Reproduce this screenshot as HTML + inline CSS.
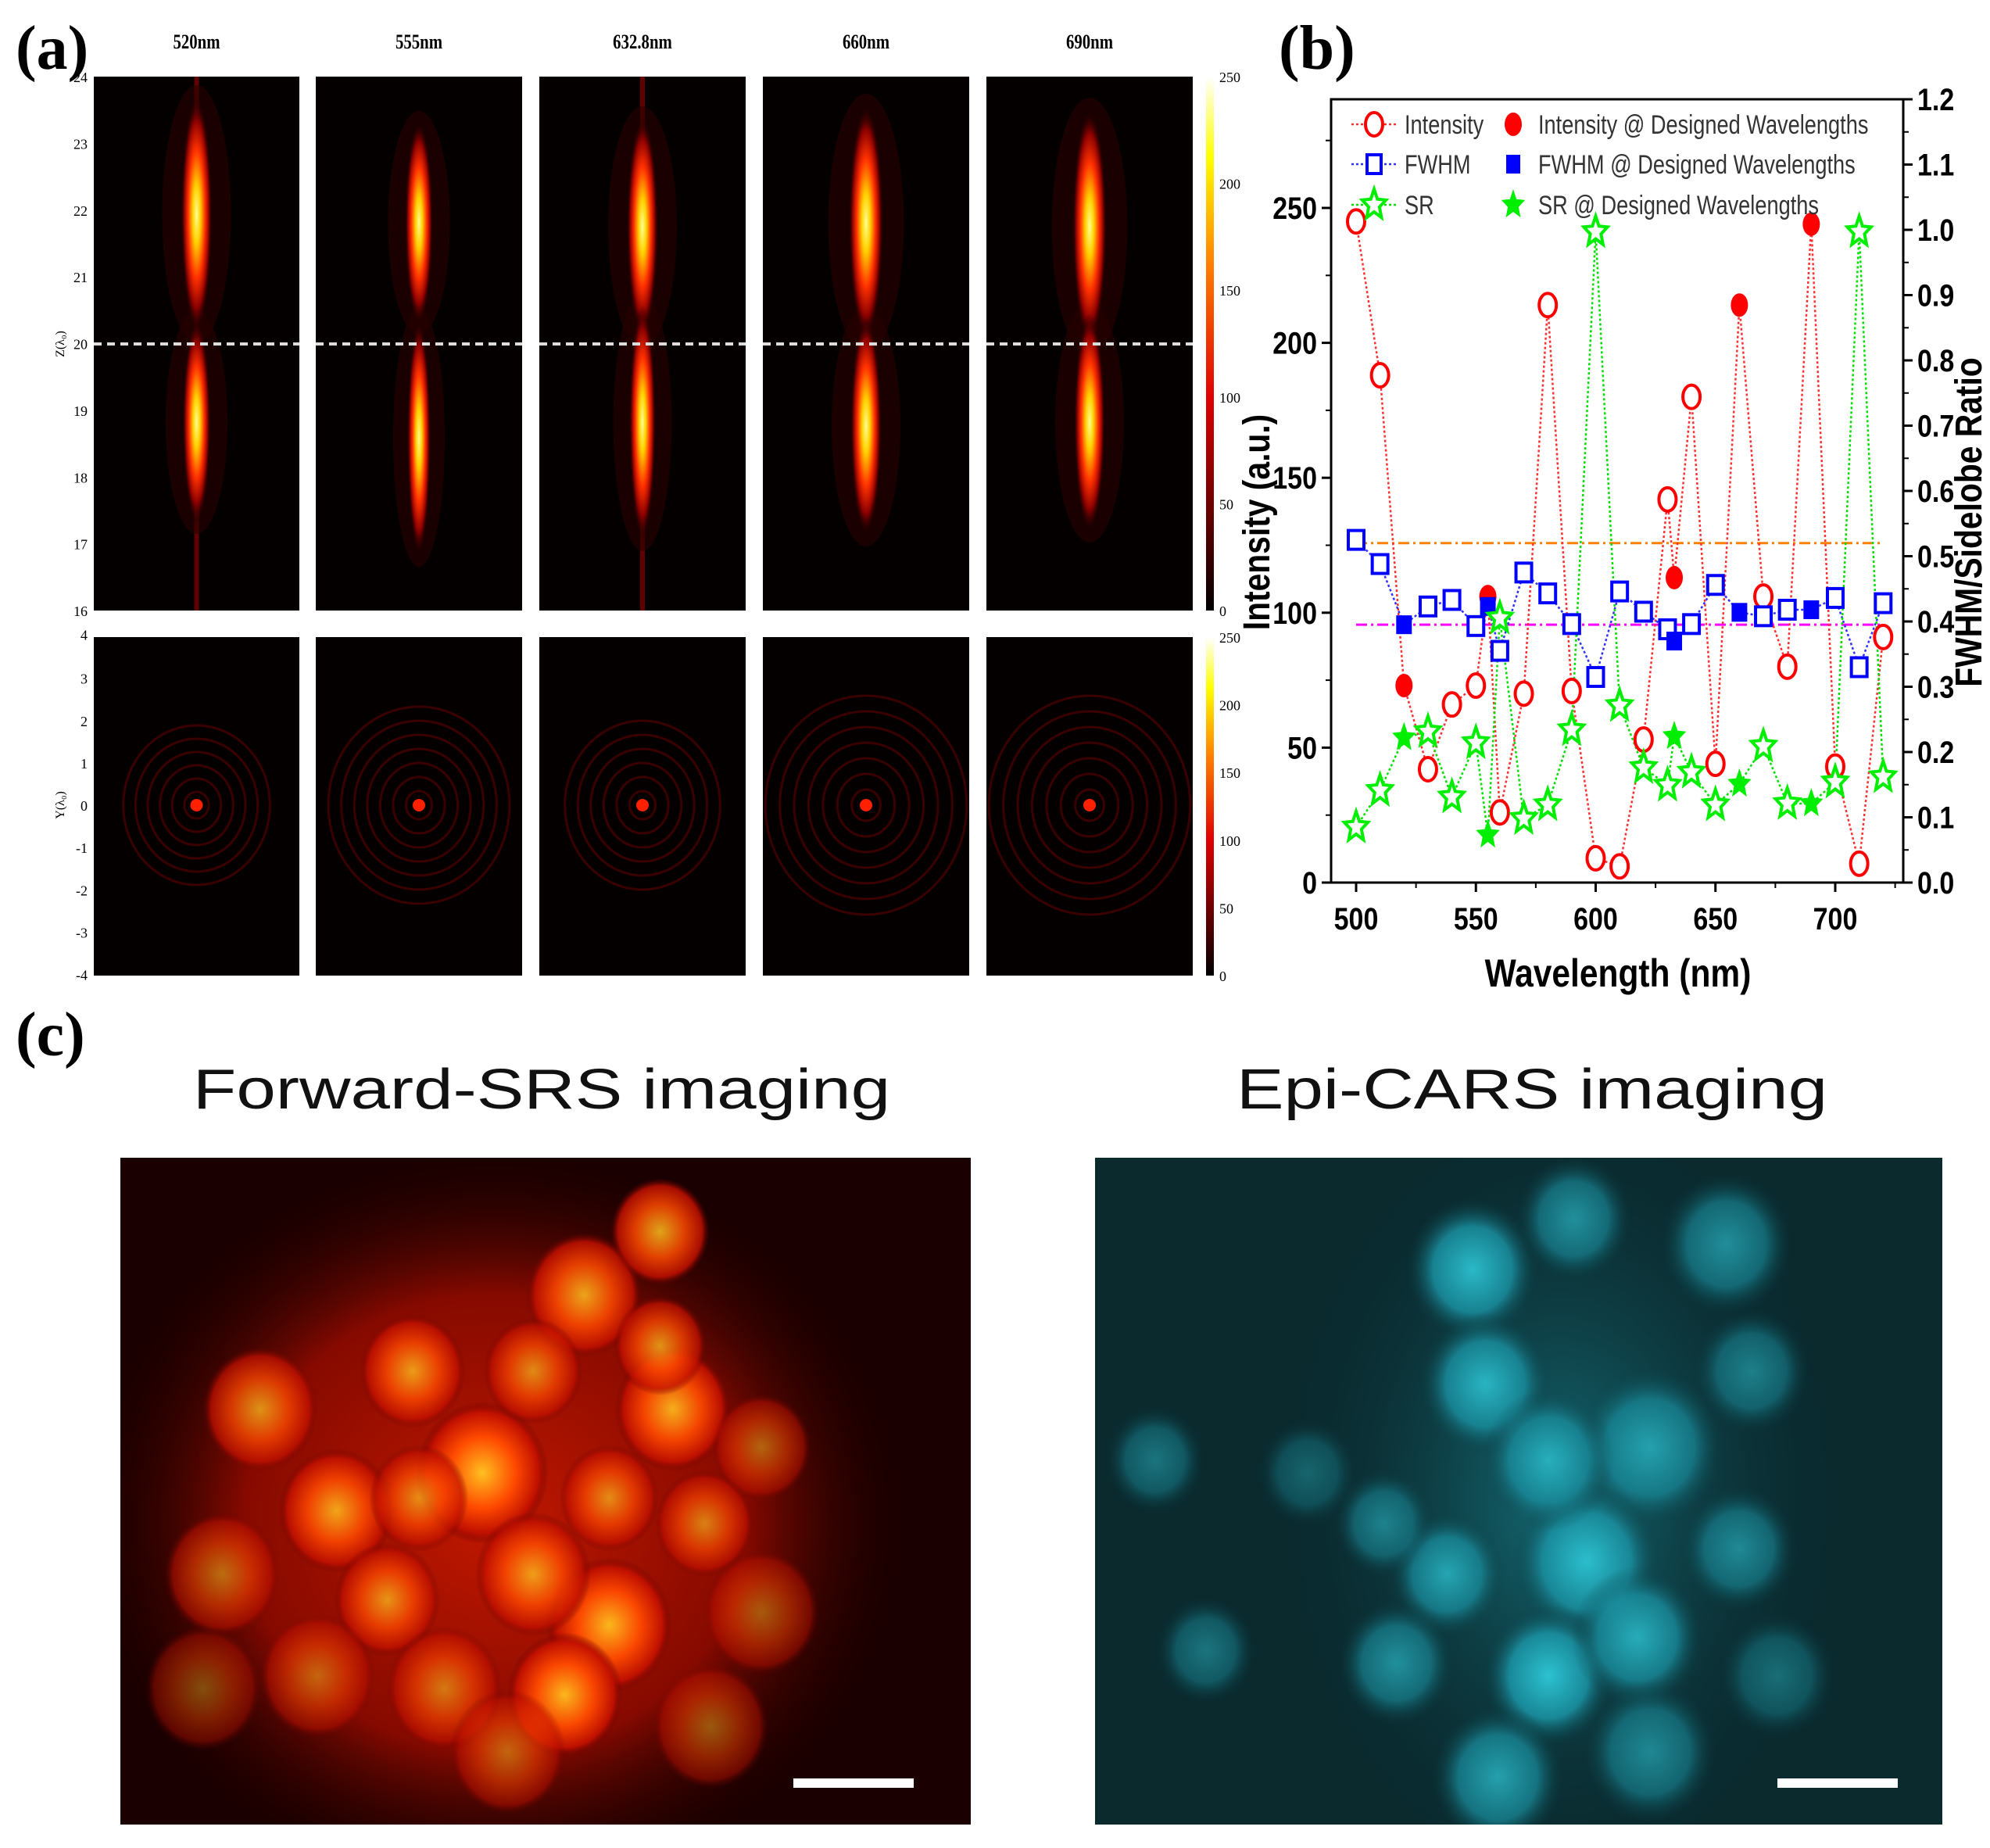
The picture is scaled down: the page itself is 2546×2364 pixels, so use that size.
<!DOCTYPE html>
<html><head><meta charset="utf-8">
<style>
html,body{margin:0;padding:0;background:#fff;}
body{width:2546px;height:2364px;position:relative;overflow:hidden;font-family:"Liberation Sans",sans-serif;}
svg{position:absolute;left:0;top:0;}
</style></head>
<body>
<svg id="root" width="2546" height="2364" viewBox="0 0 2546 2364" xmlns="http://www.w3.org/2000/svg">
<defs>
  <radialGradient id="lobe" cx="50%" cy="50%" r="50%">
    <stop offset="0" stop-color="#ffff90"/>
    <stop offset="0.25" stop-color="#ffd000"/>
    <stop offset="0.55" stop-color="#ff3000"/>
    <stop offset="0.8" stop-color="#8a0000"/>
    <stop offset="1" stop-color="#100000" stop-opacity="0"/>
  </radialGradient>
  <linearGradient id="cbar" x1="0" y1="1" x2="0" y2="0">
    <stop offset="0" stop-color="#000"/>
    <stop offset="0.4" stop-color="#e00000"/>
    <stop offset="0.65" stop-color="#ff8000"/>
    <stop offset="0.85" stop-color="#ffff00"/>
    <stop offset="1" stop-color="#ffffff"/>
  </linearGradient>
  <radialGradient id="redcell" cx="50%" cy="50%" r="50%">
    <stop offset="0" stop-color="#ffc020"/>
    <stop offset="0.5" stop-color="#ff4a00"/>
    <stop offset="0.85" stop-color="#c01000"/>
    <stop offset="1" stop-color="#600000" stop-opacity="0"/>
  </radialGradient>
  <radialGradient id="redglow" cx="50%" cy="50%" r="50%">
    <stop offset="0" stop-color="#c01800"/>
    <stop offset="0.6" stop-color="#860a00"/>
    <stop offset="1" stop-color="#1a0000" stop-opacity="0"/>
  </radialGradient>
  <radialGradient id="cyancell" cx="50%" cy="50%" r="50%">
    <stop offset="0" stop-color="#30d0e0"/>
    <stop offset="0.6" stop-color="#1a90a0"/>
    <stop offset="1" stop-color="#0a3a40" stop-opacity="0"/>
  </radialGradient>
  <radialGradient id="cyanglow" cx="50%" cy="50%" r="50%">
    <stop offset="0" stop-color="#166e78"/>
    <stop offset="1" stop-color="#0a2a30" stop-opacity="0"/>
  </radialGradient>
  <clipPath id="clipL"><rect x="154" y="1481" width="1088" height="853"/></clipPath>
  <clipPath id="clipR"><rect x="1401" y="1481" width="1084" height="853"/></clipPath>
</defs>
<g id="panelA"></g>
<g id="panelB"></g>
<g id="panelC"></g>
</svg>
<script>
// ---- Panel (b) chart data ----
const wavelengths = [500,510,520,530,540,550,555,560,570,580,590,600,610,620,630,632.8,640,650,660,670,680,690,700,710,720];
const designed = [520,555,632.8,660,690];
const intensityValues = [245,188,73,42,66,73,106,26,70,214,71,9,6,53,142,113,180,44,214,106,80,244,43,7,91];
const fwhmValues = [0.525,0.488,0.395,0.423,0.433,0.393,0.423,0.355,0.475,0.443,0.396,0.315,0.446,0.415,0.388,0.370,0.396,0.456,0.414,0.408,0.418,0.418,0.436,0.330,0.428];
const srValues = [0.085,0.141,0.222,0.231,0.131,0.214,0.073,0.405,0.098,0.119,0.234,0.997,0.271,0.176,0.149,0.224,0.169,0.119,0.151,0.209,0.121,0.121,0.154,0.997,0.162];
const refLineOrange = 0.52;
const refLineMagenta = 0.395;
const xTicks = [500,550,600,650,700];
const yLeftTicks = [0,50,100,150,200,250];
const yRightTicks = [0,0.1,0.2,0.3,0.4,0.5,0.6,0.7,0.8,0.9,1.0,1.1,1.2];

const NS = "http://www.w3.org/2000/svg";
function mk(tag, attrs, parent){const e=document.createElementNS(NS,tag);for(const k in attrs)e.setAttribute(k,attrs[k]);if(parent)parent.appendChild(e);return e;}

const L=1703, R=2435, T=127, B=1129;
const xs = v => 1735 + (v-500)*(2348-1735)/200;
const yl = v => B - v*(B-266)/250;
const yr = v => B - v*(B-T)/1.2;

const pb = document.getElementById('panelB');
const lb = mk('text',{x:1636,y:88,'font-family':'Liberation Serif, serif','font-weight':'bold','font-size':80},pb);
lb.textContent='(b)';



const frame = mk('rect',{x:L,y:T,width:R-L,height:B-T,fill:'none',stroke:'#000','stroke-width':3},pb);



xTicks.forEach(v=>{
  const x=xs(v);
  mk('line',{x1:x,y1:B,x2:x,y2:B+12,stroke:'#000','stroke-width':3},pb);
  const t=mk('text',{x:x,y:B+60,'text-anchor':'middle','font-size':40,'font-weight':'bold',transform:`translate(${x},0) scale(0.85,1) translate(${-x},0)`},pb);
  t.textContent=v;
  
  
});
for(let v=525; v<=725; v+=50){const x=xs(v);mk('line',{x1:x,y1:B,x2:x,y2:B+7,stroke:'#000','stroke-width':2},pb);}
yLeftTicks.forEach(v=>{
  const y=yl(v);
  mk('line',{x1:L-12,y1:y,x2:L,y2:y,stroke:'#000','stroke-width':3},pb);
  const t=mk('text',{x:L-18,y:y+14,'text-anchor':'end','font-size':40,'font-weight':'bold',transform:`translate(${L-18},0) scale(0.85,1) translate(${-(L-18)},0)`},pb);
  t.textContent=v;
  
  
});
for(let v=25; v<=275; v+=50){const y=yl(v);mk('line',{x1:L-7,y1:y,x2:L,y2:y,stroke:'#000','stroke-width':2},pb);}
yRightTicks.forEach(v=>{
  const y=yr(v);
  mk('line',{x1:R,y1:y,x2:R+12,y2:y,stroke:'#000','stroke-width':3},pb);
  const t=mk('text',{x:R+18,y:y+14,'font-size':40,'font-weight':'bold',transform:`translate(${R+18},0) scale(0.85,1) translate(${-(R+18)},0)`},pb);
  t.textContent=v.toFixed(1);
  
  
});
for(let v=0.05; v<1.2; v+=0.1){const y=yr(v);mk('line',{x1:R,y1:y,x2:R+7,y2:y,stroke:'#000','stroke-width':2},pb);}

const xt=mk('text',{x:2070,y:1262,'text-anchor':'middle','font-size':50,'font-weight':'bold',transform:'translate(2070,0) scale(0.85,1) translate(-2070,0)'},pb);
xt.textContent='Wavelength (nm)';


const ylt=mk('text',{x:0,y:0,'text-anchor':'middle','font-size':48,'font-weight':'bold',transform:`translate(1624,${(B+T)/2+40}) rotate(-90) scale(0.85,1)`},pb);
ylt.textContent='Intensity (a.u.)';


const yrt=mk('text',{x:0,y:0,'text-anchor':'middle','font-size':48,'font-weight':'bold',transform:`translate(2535,${(B+T)/2+40}) rotate(-90) scale(0.85,1)`},pb);
yrt.textContent='FWHM/Sidelobe Ratio';



const ro=mk('line',{x1:xs(500),x2:xs(720),y1:yr(refLineOrange),y2:yr(refLineOrange),stroke:'#ff8000','stroke-width':3,'stroke-dasharray':'14 5 3 5'},pb);


const rm=mk('line',{x1:xs(500),x2:xs(720),y1:yr(refLineMagenta),y2:yr(refLineMagenta),stroke:'#ff00ff','stroke-width':3,'stroke-dasharray':'14 5 3 5'},pb);



function series(vals, yf, color, name){
  const pts=wavelengths.map((w,i)=>xs(w)+','+yf(vals[i])).join(' ');
  const pl=mk('polyline',{points:pts,fill:'none',stroke:color,'stroke-width':2.5,'stroke-dasharray':'3 3'},pb);
  
  
}
function star(cx,cy,ro,ri){let p=[];for(let k=0;k<10;k++){const r=k%2?ri:ro;const a=-Math.PI/2+k*Math.PI/5;p.push((cx+r*Math.cos(a)*0.8)+','+(cy+r*Math.sin(a)));}return p.join(' ');}

series(intensityValues, yl, '#ff3030', 'intensity');
series(fwhmValues, yr, '#3030ff', 'fwhm');
series(srValues, yr, '#00e000', 'sr');

wavelengths.forEach((w,i)=>{
  const d=designed.includes(w);
  const x=xs(w);
  let e=mk('ellipse',{cx:x,cy:yl(intensityValues[i]),rx:11,ry:15,fill:d?'#ff0000':'#fff',stroke:'#ff0000','stroke-width':d?0:4},pb);
  
  
  let s=mk('rect',{x:x-10,y:yr(fwhmValues[i])-12,width:20,height:24,fill:d?'#0000ff':'#fff',stroke:'#0000ff','stroke-width':d?0:4},pb);
  
  
  let st=mk('polygon',{points:star(x,yr(srValues[i]),20,9),fill:d?'#00ee00':'#fff',stroke:'#00ee00','stroke-width':d?0:4},pb);
  
  
});

const legendRows=[
  {y:159,c:'#ff3030',m:'circle',t1:'Intensity',t2:'Intensity @ Designed Wavelengths'},
  {y:210,c:'#3030ff',m:'square',t1:'FWHM',t2:'FWHM @ Designed Wavelengths'},
  {y:262,c:'#00e000',m:'star',t1:'SR',t2:'SR @ Designed Wavelengths'}];
legendRows.forEach(r=>{
  const g=mk('g',{},pb);
  
  
  mk('line',{x1:1729,x2:1787,y1:r.y,y2:r.y,stroke:r.c,'stroke-width':2.5,'stroke-dasharray':'3 3'},g);
  const draw=(x,filled)=>{
    if(r.m==='circle') mk('ellipse',{cx:x,cy:r.y,rx:11,ry:15,fill:filled?'#f00':'#fff',stroke:'#f00','stroke-width':filled?0:4},g);
    else if(r.m==='square') mk('rect',{x:x-9,y:r.y-12,width:18,height:24,fill:filled?'#00f':'#fff',stroke:'#00f','stroke-width':filled?0:4},g);
    else mk('polygon',{points:star(x,r.y,20,9),fill:filled?'#00ee00':'#fff',stroke:'#00ee00','stroke-width':filled?0:4},g);
  };
  draw(1758,false); draw(1936,true);
  const t1=mk('text',{x:1797,y:r.y+12,'font-size':34,fill:'#333',transform:'translate(1797,0) scale(0.8,1) translate(-1797,0)'},g); t1.textContent=r.t1;
  const t2=mk('text',{x:1968,y:r.y+12,'font-size':34,fill:'#333',transform:'translate(1968,0) scale(0.8,1) translate(-1968,0)'},g); t2.textContent=r.t2;
});

// ---- Panel (a) ----
const pa=document.getElementById('panelA');
const la=mk('text',{x:20,y:88,'font-family':'Liberation Serif, serif','font-weight':'bold','font-size':80},pa);
la.textContent='(a)';


const colsX=[[120,383],[404,668],[690,954],[976,1240],[1262,1526]];
const colNames=['520nm','555nm','632.8nm','660nm','690nm'];
const lobeUp=[[274,150,20],[285,130,18],[290,140,20],[285,150,22],[290,150,22]];
const lobeDn=[[540,130,18],[560,150,15],[540,150,17],[545,140,20],[540,140,20]];
const ringR=[[6,17],[7,18],[6,18],[7,20],[7,20]];
colsX.forEach((c,i)=>{
  const cx=(c[0]+c[1])/2;
  const lt=mk('text',{x:cx,y:62,'text-anchor':'middle','font-family':'Liberation Serif, serif','font-weight':'bold','font-size':26,transform:`translate(${cx},0) scale(0.8,1) translate(${-cx},0)`},pa);
  lt.textContent=colNames[i];
  
  
  const g=mk('g',{},pa);
  
  
  mk('rect',{x:c[0],y:98,width:c[1]-c[0],height:683,fill:'#050000'},g);
  if(i===0||i===2) mk('rect',{x:cx-3,y:98,width:6,height:683,fill:'#600000'},g);
  mk('ellipse',{cx:cx,cy:lobeUp[i][0],rx:lobeUp[i][2]*2.2,ry:lobeUp[i][1]*1.1,fill:'#2a0000',opacity:0.6},g);
  mk('ellipse',{cx:cx,cy:lobeDn[i][0],rx:lobeDn[i][2]*2.2,ry:lobeDn[i][1]*1.1,fill:'#2a0000',opacity:0.6},g);
  mk('ellipse',{cx:cx,cy:lobeUp[i][0],rx:lobeUp[i][2],ry:lobeUp[i][1],fill:'url(#lobe)'},g);
  mk('ellipse',{cx:cx,cy:lobeDn[i][0],rx:lobeDn[i][2],ry:lobeDn[i][1],fill:'url(#lobe)'},g);
  mk('line',{x1:c[0],x2:c[1],y1:440,y2:440,stroke:'#ddd','stroke-width':4,'stroke-dasharray':'10 7'},g);
  const g2=mk('g',{},pa);
  
  
  mk('rect',{x:c[0],y:815,width:c[1]-c[0],height:433,fill:'#050000'},g2);
  for(let k=1;k<=ringR[i][0];k++) mk('ellipse',{cx:cx,cy:1030,rx:k*ringR[i][1]*0.92,ry:k*ringR[i][1],fill:'none',stroke:'#3a0000','stroke-width':3},g2);
  mk('circle',{cx:cx,cy:1030,r:8,fill:'#ff2000'},g2);
});
for(let v=16;v<=24;v++){const y=781-(v-16)*(683/8);const t=mk('text',{x:112,y:y+7,'text-anchor':'end','font-family':'Liberation Serif, serif','font-size':18},pa);t.textContent=v;}
for(let v=-4;v<=4;v++){const y=1030-v*(433/8)+ (v===4?-2:0);const t=mk('text',{x:112,y:y+7,'text-anchor':'end','font-family':'Liberation Serif, serif','font-size':18},pa);t.textContent=v;}
const zt=mk('text',{x:0,y:0,'text-anchor':'middle','font-family':'Liberation Serif, serif','font-size':16,transform:'translate(82,440) rotate(-90)'},pa);zt.textContent='Z(λ₀)';
const yt=mk('text',{x:0,y:0,'text-anchor':'middle','font-family':'Liberation Serif, serif','font-size':16,transform:'translate(82,1030) rotate(-90)'},pa);yt.textContent='Y(λ₀)';
[[98,781],[815,1248]].forEach(b=>{
  const cb=mk('rect',{x:1543,y:b[0],width:10,height:b[1]-b[0],fill:'url(#cbar)'},pa);
  
  
  [0,50,100,150,200,250].forEach(v=>{const y=b[1]-v*(b[1]-b[0])/250;const t=mk('text',{x:1560,y:y+7,'font-family':'Liberation Serif, serif','font-size':18},pa);t.textContent=v;});
});

// ---- Panel (c) ----
const pc=document.getElementById('panelC');
const lc=mk('text',{x:20,y:1350,'font-family':'Liberation Serif, serif','font-weight':'bold','font-size':80},pc);
lc.textContent='(c)';


const t1=mk('text',{x:693,y:1418,'text-anchor':'middle','font-size':72,fill:'#111',transform:'translate(693,0) scale(1.26,1) translate(-693,0)'},pc);t1.textContent='Forward-SRS imaging';
const t2=mk('text',{x:1960,y:1418,'text-anchor':'middle','font-size':72,fill:'#111',transform:'translate(1960,0) scale(1.26,1) translate(-1960,0)'},pc);t2.textContent='Epi-CARS imaging';
const S=1.624;
const redCells=[[380,1160,40,1],[480,1280,38,0.95],[445,1335,35,0.95],[530,1110,35,0.9],[460,1020,35,0.85],[520,970,30,0.85],[325,1080,32,0.8],[265,1190,35,0.85],[205,1110,35,0.75],[305,1260,32,0.75],[520,1060,28,0.75],[420,1240,35,0.8],[555,1200,30,0.65],[175,1240,35,0.55],[350,1330,35,0.6],[250,1320,35,0.5],[420,1080,30,0.7],[330,1180,30,0.7],[600,1270,35,0.45],[560,1360,35,0.45],[480,1180,30,0.7],[400,1380,35,0.5],[160,1330,35,0.4],[600,1140,30,0.5]];
const cyanCells=[[1160,1000,40,0.85],[1170,1090,40,0.8],[1360,980,40,0.6],[1300,1140,45,0.65],[1250,1230,45,0.85],[1220,1320,40,0.9],[1290,1290,40,0.75],[1140,1240,35,0.7],[1100,1310,35,0.6],[1370,1220,35,0.55],[1180,1400,40,0.7],[1300,1380,40,0.55],[1380,1080,35,0.5],[910,1150,30,0.45],[950,1300,30,0.45],[1030,1160,30,0.35],[1240,960,35,0.6],[1220,1150,40,0.7],[1090,1200,30,0.5],[1400,1320,35,0.4]];
function img(clip,x,y,w,h,base,glow,cells,cellGrad,glowC,name){
  const g=mk('g',{'clip-path':`url(#${clip})`},pc);
  
  
  mk('rect',{x:x,y:y,width:w,height:h,fill:base},g);
  mk('ellipse',{cx:glowC[0]*S,cy:glowC[1]*S,rx:glowC[2]*S,ry:glowC[3]*S,fill:glow},g);
  cells.forEach(c=>mk('ellipse',{cx:c[0]*S,cy:c[1]*S,rx:c[2]*S*1.3,ry:c[2]*S*1.4,fill:cellGrad,opacity:c[3]},g));
}
img('clipL',154,1481,1088,853,'#1a0000','url(#redglow)',redCells,'url(#redcell)',[390,1200,330,300],'srs-image');
img('clipR',1401,1481,1084,853,'#0a2a2e','url(#cyanglow)',cyanCells,'url(#cyancell)',[1230,1180,230,320],'cars-image');
const sb1=mk('rect',{x:1015,y:2275,width:154,height:12,fill:'#fff'},pc);
const sb2=mk('rect',{x:2274,y:2275,width:154,height:12,fill:'#fff'},pc);
</script>
</body></html>
